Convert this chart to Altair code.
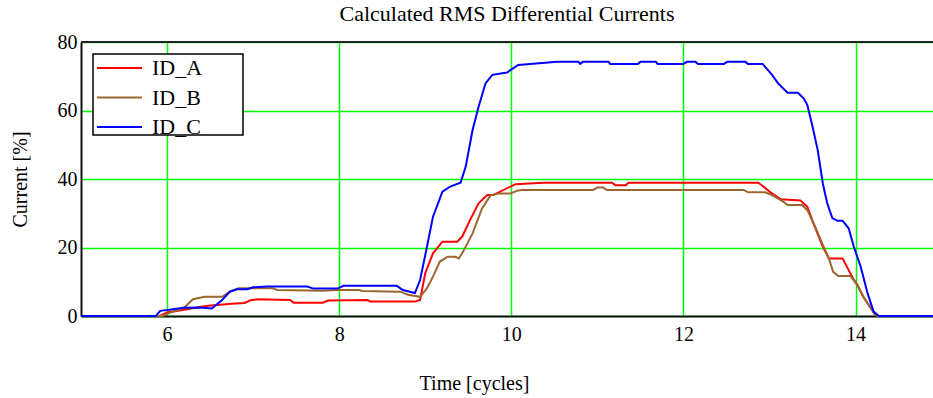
import altair as alt
import pandas as pd

# Series samples: time in cycles, RMS differential current in percent
id_a_t = [5.0, 5.92, 6.0, 6.2, 6.45, 6.75, 6.9, 6.97, 7.05, 7.43, 7.47, 7.81, 7.87, 8.33, 8.36, 8.88,
          8.94, 9.0, 9.09, 9.20, 9.37, 9.43, 9.52, 9.62, 9.72, 9.79, 9.99, 10.05, 10.37, 11.17, 11.21,
          11.33, 11.36, 12.87, 12.93, 13.01, 13.13, 13.36, 13.44, 13.51, 13.62, 13.69, 13.85, 13.92,
          13.97, 14.02, 14.09, 14.23, 14.26, 14.9]
id_a_v = [0.0, 0.0, 1.0, 1.8, 2.9, 3.6, 3.8, 4.6, 4.9, 4.7, 3.9, 3.9, 4.5, 4.7, 4.2, 4.2,
          4.7, 12.5, 18.3, 21.7, 21.7, 23.2, 28.0, 32.9, 35.3, 35.3, 37.8, 38.5, 38.9, 38.9, 38.2,
          38.2, 38.9, 38.9, 37.8, 36.1, 34.1, 33.7, 31.9, 27.1, 20.2, 16.8, 16.8, 13.4,
          11.0, 9.1, 5.6, 0.3, 0.0, 0.0]

id_b_t = [5.0, 5.95, 6.03, 6.19, 6.30, 6.44, 6.64, 6.73, 6.83, 7.23, 7.28, 7.81, 7.98, 8.23, 8.27,
          8.71, 8.80, 8.94, 9.02, 9.09, 9.17, 9.26, 9.35, 9.39, 9.44, 9.55, 9.66, 9.76, 9.87, 9.99,
          10.07, 10.12, 10.95, 11.0, 11.07, 11.11, 12.70, 12.75, 12.95, 13.03, 13.16, 13.21, 13.38,
          13.44, 13.53, 13.63, 13.69, 13.74, 13.80, 13.94, 14.02, 14.09, 14.23, 14.26, 14.9]
id_b_v = [0.0, 0.0, 0.9, 2.2, 4.9, 5.6, 5.6, 7.1, 8.1, 8.1, 7.6, 7.4, 7.6, 7.6, 7.3,
          7.1, 6.2, 5.6, 8.1, 11.5, 15.9, 17.3, 17.3, 16.8, 18.8, 24.1, 31.4, 35.3, 35.8, 35.8,
          36.6, 36.8, 36.8, 37.5, 37.5, 36.8, 36.8, 36.1, 36.1, 35.3, 33.4, 32.4, 32.4,
          30.9, 26.1, 20.2, 16.8, 12.9, 11.7, 11.7, 9.1, 5.6, 0.3, 0.0, 0.0]

id_c_t = [5.0, 5.87, 5.92, 6.03, 6.19, 6.38, 6.52, 6.64, 6.73, 6.81, 6.93, 7.0, 7.16, 7.63, 7.7,
          7.98, 8.05, 8.67, 8.74, 8.88, 8.94, 9.02, 9.09, 9.20, 9.29, 9.41, 9.47, 9.55, 9.62, 9.70,
          9.78, 9.95, 10.08, 10.22, 10.53, 10.78, 10.80, 10.83, 11.13, 11.15, 11.47, 11.5, 11.68,
          11.70, 12.0, 12.04, 12.14, 12.17, 12.47, 12.51, 12.72, 12.75, 12.92, 13.03, 13.10, 13.21,
          13.33, 13.40, 13.44, 13.50, 13.56, 13.62, 13.67, 13.73, 13.79, 13.85, 13.92, 13.98, 14.06,
          14.14, 14.21, 14.27, 14.9]
id_c_v = [0.0, 0.0, 1.5, 1.8, 2.4, 2.5, 2.2, 4.7, 7.1, 7.8, 7.8, 8.4, 8.6, 8.6, 8.0,
          8.0, 8.8, 8.8, 7.6, 6.7, 10.5, 20.2, 29.0, 36.3, 37.8, 38.9, 43.6, 54.3, 61.1, 67.9,
          70.4, 71.1, 73.3, 73.6, 74.2, 74.2, 73.6, 74.2, 74.2, 73.6, 73.6, 74.2, 74.2,
          73.6, 73.6, 74.2, 74.2, 73.6, 73.6, 74.2, 74.2, 73.6, 73.6, 70.4, 67.9, 65.2,
          65.2, 63.5, 61.6, 55.3, 48.5, 38.7, 33.0, 28.6, 27.8, 27.8, 25.6, 20.2, 14.4,
          6.6, 1.3, 0.0, 0.0]

series_names = ["ID_A", "ID_B", "ID_C"]
series_colors = ["#FF0000", "#9C6630", "#0000FF"]
x_ticks = [6, 8, 10, 12, 14]
y_ticks = [0, 20, 40, 60, 80]
x_range = [5, 14.9]
y_range = [0, 80]

rows = []
for name, ts, vs in zip(series_names, [id_a_t, id_b_t, id_c_t], [id_a_v, id_b_v, id_c_v]):
    for i, (t, v) in enumerate(zip(ts, vs)):
        rows.append({"series": name, "t": t, "value": v, "idx": i})
df = pd.DataFrame(rows)
legend_df = pd.DataFrame({"series": series_names, "row": list(range(len(series_names)))})

FONT = "Liberation Serif"
color_scale = alt.Scale(domain=series_names, range=series_colors)

x_enc = alt.X(
    "t:Q",
    scale=alt.Scale(domain=x_range, nice=False, zero=False),
    axis=alt.Axis(
        values=x_ticks, format="d", title="Time [cycles]",
        titleX=393, titleY=67, titleBaseline="middle", titleAlign="center",
        labelPadding=8, grid=True,
    ),
)
y_enc = alt.Y(
    "value:Q",
    scale=alt.Scale(domain=y_range, nice=False),
    axis=alt.Axis(
        values=y_ticks, title="Current [%]",
        titleX=-61, titleY=137, titleAngle=-90, titleBaseline="middle", titleAlign="center",
        labelPadding=4, grid=True,
    ),
)

# the three current traces, drawn over the axis line where they sit at zero
lines = alt.Chart(df).mark_line(strokeWidth=2, clip=False).encode(
    x=x_enc,
    y=y_enc,
    order="idx:Q",
    color=alt.Color("series:N", scale=color_scale, legend=None),
)

# frame line along the top of the plot area
top_border = alt.Chart(df).mark_rule(color="#222222", strokeWidth=2).encode(
    x=alt.datum(x_range[0]),
    x2=alt.datum(x_range[1]),
    y=alt.YDatum(y_range[1], scale=alt.Scale(domain=y_range, nice=False), axis=None),
)

# boxed legend in the upper-left corner, one row per series
legend_y = alt.Y("row:Q", scale=alt.Scale(domain=[0, 2], range=[26, 85], nice=False, zero=False), axis=None)

legend_box = alt.Chart(pd.DataFrame({"k": [0]})).mark_rect(
    fill="#FFFFFF", stroke="#000000", strokeWidth=1.5
).encode(x=alt.value(12), x2=alt.value(162), y=alt.value(12), y2=alt.value(93))

legend_keys = alt.Chart(legend_df).mark_rule(strokeWidth=2).encode(
    x=alt.value(16), x2=alt.value(61), y=legend_y,
    color=alt.Color("series:N", scale=color_scale, legend=None),
)

legend_labels = alt.Chart(legend_df).mark_text(
    align="left", baseline="middle", font=FONT, fontSize=22, color="#000000"
).encode(x=alt.value(71), y=legend_y, text="series:N")

chart = (
    alt.layer(lines, top_border, legend_box, legend_keys, legend_labels)
    .resolve_scale(y="independent")
    .properties(
        width=852, height=274,
        title=alt.TitleParams(
            "Calculated RMS Differential Currents",
            font=FONT, fontSize=22, fontWeight="normal", color="#000000",
            anchor="middle", offset=6,
        ),
        autosize=alt.AutoSizeParams(type="none"),
        padding={"left": 81, "top": 42, "right": 0, "bottom": 82},
    )
    .configure_view(stroke=None)
    .configure_axis(
        domainColor="#111111", domainWidth=2, ticks=False,
        gridColor="#00FF00", gridWidth=1.5, gridOpacity=1,
        labelFont=FONT, labelFontSize=20, labelColor="#000000",
        titleFont=FONT, titleFontSize=20, titleFontWeight="normal", titleColor="#000000",
    )
)

chart.save("out.html", embed_options={"renderer": "svg", "actions": False})
